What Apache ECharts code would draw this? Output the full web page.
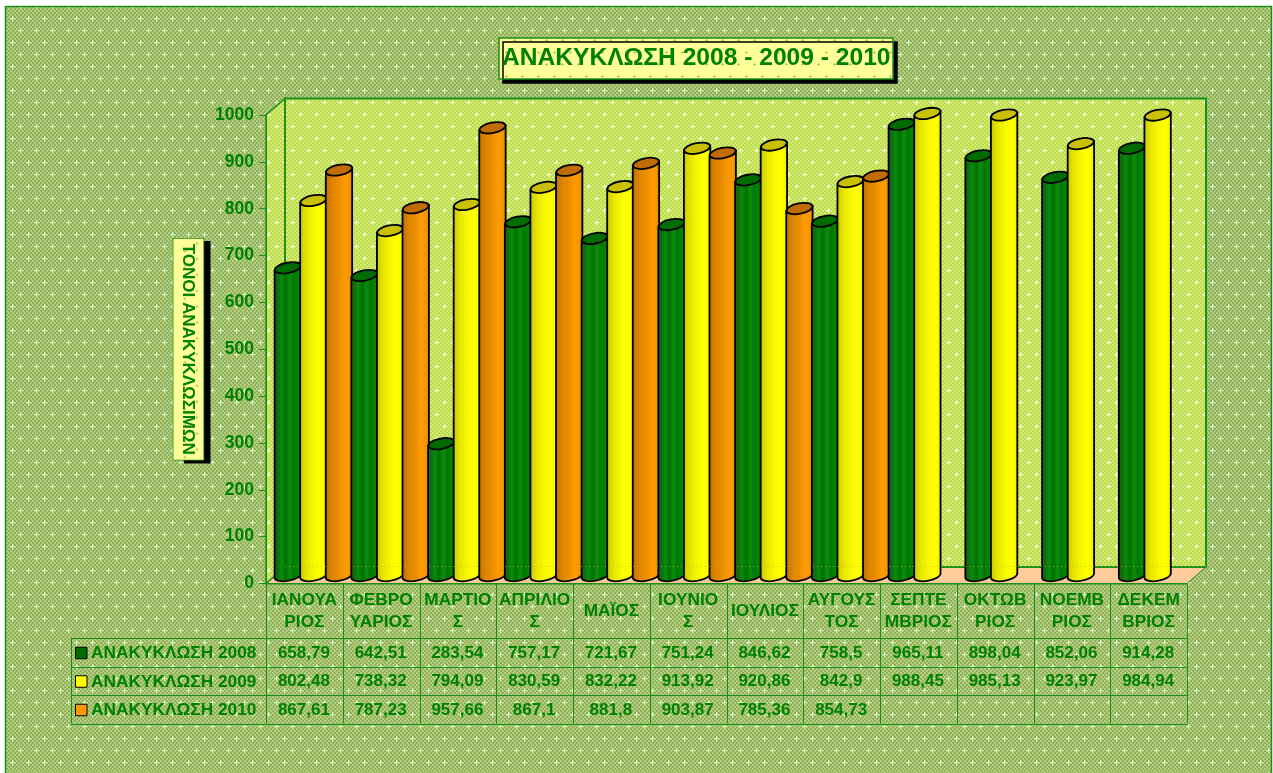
<!DOCTYPE html>
<html>
<head>
<meta charset="utf-8">
<title>ΑΝΑΚΥΚΛΩΣΗ</title>
<script src="https://cdn.jsdelivr.net/npm/echarts@6/dist/echarts.min.js"></script>
<style>
html, body { margin: 0; padding: 0; background: #fff; overflow: hidden; }
#main { width: 1273px; height: 773px; }
</style>
</head>
<body>
<div id="main"></div>
<script>
var months = ['ΙΑΝΟΥΑ\nΡΙΟΣ', 'ΦΕΒΡΟ\nΥΑΡΙΟΣ', 'ΜΑΡΤΙΟ\nΣ', 'ΑΠΡΙΛΙΟ\nΣ', 'ΜΑΪΟΣ', 'ΙΟΥΝΙΟ\nΣ',
    'ΙΟΥΛΙΟΣ', 'ΑΥΓΟΥΣ\nΤΟΣ', 'ΣΕΠΤΕ\nΜΒΡΙΟΣ', 'ΟΚΤΩΒ\nΡΙΟΣ', 'ΝΟΕΜΒ\nΡΙΟΣ', 'ΔΕΚΕΜ\nΒΡΙΟΣ'];
var names = ['ΑΝΑΚΥΚΛΩΣΗ 2008', 'ΑΝΑΚΥΚΛΩΣΗ 2009', 'ΑΝΑΚΥΚΛΩΣΗ 2010'];
var values2008 = [658.79, 642.51, 283.54, 757.17, 721.67, 751.24, 846.62, 758.5, 965.11, 898.04, 852.06, 914.28];
var values2009 = [802.48, 738.32, 794.09, 830.59, 832.22, 913.92, 920.86, 842.9, 988.45, 985.13, 923.97, 984.94];
var values2010 = [867.61, 787.23, 957.66, 867.1, 881.8, 903.87, 785.36, 854.73, null, null, null, null];

var GREEN = '#008000';
var LINE = '#1a8f1a';
var FONT = '"Liberation Sans", Arial, sans-serif';
var GRID = { left: 266, top: 115, width: 921, height: 468.5 };
// depth of the fake 3d box
var DX = 19, DY = -16.5;

// dithered tile with small crosses, used for all the textured surfaces
function makeTile(w, h, colorA, colorB, dot, big) {
    var c = document.createElement('canvas');
    c.width = w;
    c.height = h;
    var ctx = c.getContext('2d');
    ctx.fillStyle = colorA;
    ctx.fillRect(0, 0, w, h);
    if (colorB) {
        ctx.fillStyle = colorB;
        for (var y = 0; y < h; y += 2) {
            for (var x = 0; x < w; x += 2) {
                if ((x + y) % 4 === 0) ctx.fillRect(x, y, 2, 2);
            }
        }
    }
    ctx.fillStyle = dot;
    for (var py = 6; py < h; py += 12) {
        for (var px = (py % 24 === 6 ? 4 : 12); px < w; px += 16) {
            if (big) {
                ctx.fillRect(px - 2, py, 5, 1);
                ctx.fillRect(px, py - 2, 1, 5);
            } else {
                ctx.fillRect(px - 1, py, 3, 1);
                ctx.fillRect(px, py - 1, 1, 3);
            }
        }
    }
    return c;
}
var pageTile = { image: makeTile(16, 24, '#90b258', '#b4cd82', '#d4f8c8', true), repeat: 'repeat' };
var wallTile = { image: makeTile(16, 24, '#bcdc48', '#d4ea78', '#f4fce0', true), repeat: 'repeat' };
var boxTile = { image: makeTile(16, 24, '#ffff99', null, '#b4d24c'), repeat: 'repeat' };
var nameBox = makeTile(223, 30, '#ffff99', null, '#b4d24c');

function renderWalls(params) {
    var g = params.coordSys;
    var x0 = g.x, x1 = g.x + g.width, y0 = g.y, y1 = g.y + g.height;
    return {
        type: 'group',
        children: [
            {
                type: 'polygon',
                shape: { points: [[x0, y1], [x0 + DX, y1 + DY], [x1 + DX, y1 + DY], [x1, y1]] },
                style: { fill: '#ffcc99', stroke: LINE, lineWidth: 1 }
            },
            {
                type: 'polygon',
                shape: { points: [[x0, y0], [x0 + DX, y0 + DY], [x0 + DX, y1 + DY], [x0, y1]] },
                style: { fill: wallTile, stroke: LINE, lineWidth: 1.5 }
            },
            {
                type: 'rect',
                shape: { x: x0 + DX, y: y0 + DY, width: g.width, height: g.height },
                style: { fill: wallTile, stroke: LINE, lineWidth: 2 }
            },
            {
                type: 'line',
                shape: { x1: x0, y1: y1 + 0.5, x2: x1, y2: y1 + 0.5 },
                style: { stroke: LINE, lineWidth: 1 }
            }
        ]
    };
}

// the back edge of the floor shows through the bars as a faint dotted line
function renderFloorEdge(params) {
    var g = params.coordSys;
    var y = g.y + g.height + DY - 0.5;
    return {
        type: 'line',
        shape: { x1: g.x + DX, y1: y, x2: g.x + g.width + DX, y2: y },
        style: { stroke: 'rgba(190,175,70,0.75)', lineWidth: 1, lineDash: [1, 3] }
    };
}

var barColors = [
    { top: '#006c00', stops: ['#2a5c1c', '#0f6c0f', '#0a8c0a', '#006f00', '#0b8f0b', '#007400', '#008a00', '#006a00'] },
    { top: '#c8c000', stops: ['#bcbc00', '#d8d800', '#e8e800', '#f2f200', '#fbfb00', '#ffff00', '#fcfc00', '#dcdc00'] },
    { top: '#c06c00', stops: ['#b06c00', '#d07c00', '#e08600', '#e88a00', '#f29200', '#ff9c00', '#f89600', '#d88000'] }
];

function renderBar(slot) {
    var color = barColors[slot];
    return function (params, api) {
        var idx = api.value(0);
        var band = api.size([1, 0])[0];
        var w = band / 3;
        var center = api.coord([idx, 0])[0] + (slot - 1) * w + 9;
        var base = api.coord([idx, 0])[1] - 8;
        var top = api.coord([idx, api.value(1)])[1] - 7;
        var rx = w / 2 + 0.4, ry = 5.2, rise = 2.5;
        var tilt = Math.atan2(rise, rx);
        var left = center - rx, right = center + rx;
        var path = 'M' + left + ' ' + (top + rise) +
            'L' + left + ' ' + (base + rise) +
            'A' + rx + ' ' + ry + ' ' + (-tilt * 180 / Math.PI) + ' 0 0 ' + right + ' ' + (base - rise) +
            'L' + right + ' ' + (top - rise) + 'Z';
        var order = idx * 3 + slot;
        var stops = color.stops.map(function (c, i) {
            return { offset: i / (color.stops.length - 1), color: c };
        });
        return {
            type: 'group',
            children: [
                {
                    type: 'path',
                    z2: order * 2,
                    shape: { pathData: path },
                    style: {
                        fill: new echarts.graphic.LinearGradient(0, 0, 1, 0, stops),
                        stroke: '#000',
                        lineWidth: 1.8
                    }
                },
                {
                    type: 'ellipse',
                    z2: order * 2 + 1,
                    x: center,
                    y: top,
                    rotation: tilt,
                    shape: { cx: 0, cy: 0, rx: rx, ry: ry },
                    style: { fill: color.top, stroke: '#000', lineWidth: 1.8 }
                }
            ]
        };
    };
}

function barData(values) {
    var out = [];
    values.forEach(function (v, i) {
        if (v !== null) out.push([i, v]);
    });
    return out;
}

// data table under the plot
function tableGraphics() {
    var out = [];
    var colW = GRID.width / 12;
    var rowY = [GRID.top + GRID.height, 638, 666.5, 695, 723.5];
    var tableLeft = 71;
    var tableRight = GRID.left + GRID.width;
    function line(x1, y1, x2, y2) {
        out.push({
            type: 'line',
            z: 5,
            shape: { x1: x1, y1: y1, x2: x2, y2: y2 },
            style: { stroke: LINE, lineWidth: 1 }
        });
    }
    for (var r = 1; r < rowY.length; r++) {
        line(tableLeft, Math.round(rowY[r]) + 0.5, tableRight, Math.round(rowY[r]) + 0.5);
    }
    line(tableLeft + 0.5, rowY[1], tableLeft + 0.5, rowY[4]);
    for (var c = 0; c <= 12; c++) {
        var lx = Math.round(GRID.left + c * colW) + 0.5;
        line(lx, rowY[0], lx, rowY[4]);
    }
    [values2008, values2009, values2010].forEach(function (values, row) {
        var cy = (rowY[row + 1] + rowY[row + 2]) / 2 + 1;
        out.push({
            type: 'rect',
            z: 5,
            shape: { x: 75.5, y: cy - 6, width: 11.5, height: 11.5 },
            style: { fill: ['#006c00', '#ffff00', '#ff9900'][row], stroke: '#000', lineWidth: 1 }
        });
        out.push({
            type: 'text',
            z: 5,
            x: 91,
            y: cy,
            style: {
                text: names[row],
                fill: GREEN,
                font: 'bold 17.3px ' + FONT,
                textAlign: 'left',
                textVerticalAlign: 'middle'
            }
        });
        values.forEach(function (v, i) {
            if (v === null) return;
            out.push({
                type: 'text',
                z: 5,
                x: GRID.left + (i + 0.5) * colW - 0.5,
                y: cy,
                style: {
                    text: String(v).replace('.', ','),
                    fill: GREEN,
                    font: 'bold 17px ' + FONT,
                    textAlign: 'center',
                    textVerticalAlign: 'middle'
                }
            });
        });
    });
    return out;
}

var chart = echarts.init(document.getElementById('main'));
var option = {
    animation: false,
    backgroundColor: '#fff',
    title: {
        text: 'ΑΝΑΚΥΚΛΩΣΗ 2008 - 2009 - 2010',
        left: 499,
        top: 38,
        padding: [8, 3, 8, 3],
        backgroundColor: boxTile,
        borderColor: LINE,
        borderWidth: 1.5,
        shadowColor: '#000',
        shadowBlur: 0,
        shadowOffsetX: 4,
        shadowOffsetY: 4,
        textStyle: { color: GREEN, fontFamily: FONT, fontWeight: 'bold', fontSize: 24.6 }
    },
    grid: GRID,
    xAxis: {
        type: 'category',
        data: months,
        axisLine: { show: false },
        axisTick: { show: false },
        axisLabel: {
            color: GREEN,
            fontFamily: FONT,
            fontWeight: 'bold',
            fontSize: 17.3,
            lineHeight: 22,
            margin: 28,
            interval: 0,
            verticalAlign: 'middle'
        }
    },
    yAxis: {
        type: 'value',
        min: 0,
        max: 1000,
        interval: 100,
        z: 5,
        name: 'ΤΟΝΟΙ ΑΝΑΚΥΚΛΩΣΙΜΩΝ',
        nameLocation: 'middle',
        nameRotate: -90,
        nameGap: 56,
        nameTextStyle: {
            color: GREEN,
            fontFamily: FONT,
            fontWeight: 'bold',
            fontSize: 17,
            padding: [7, 5, 6, 5],
            backgroundColor: { image: nameBox },
            borderColor: LINE,
            borderWidth: 1.5
        },
        splitLine: { show: false },
        axisLine: { show: true, lineStyle: { color: LINE, width: 1 } },
        axisTick: { show: true, length: 7, lineStyle: { color: LINE, width: 1 } },
        axisLabel: {
            color: GREEN,
            fontFamily: FONT,
            fontWeight: 'bold',
            fontSize: 17.5,
            margin: 12,
            formatter: function (v) { return String(v); }
        }
    },
    graphic: [
        {
            type: 'rect',
            z: -1,
            silent: true,
            shape: { x: 5.5, y: 6.5, width: 1266, height: 780 },
            style: { fill: pageTile, stroke: LINE, lineWidth: 1.5 }
        },
        {
            // drop shadow of the axis name box
            type: 'rect',
            z: 0,
            silent: true,
            shape: { x: 184, y: 241, width: 26.5, height: 222.5 },
            style: { fill: '#000' }
        }
    ].concat(tableGraphics()),
    series: [
        { type: 'custom', name: 'walls', z: 1, silent: true, data: [[0, 0]], renderItem: renderWalls },
        { type: 'custom', name: names[0], z: 2, data: barData(values2008), encode: { x: 0, y: 1 }, renderItem: renderBar(0) },
        { type: 'custom', name: names[1], z: 2, data: barData(values2009), encode: { x: 0, y: 1 }, renderItem: renderBar(1) },
        { type: 'custom', name: names[2], z: 2, data: barData(values2010), encode: { x: 0, y: 1 }, renderItem: renderBar(2) },
        { type: 'custom', name: 'floorEdge', z: 3, silent: true, data: [[0, 0]], renderItem: renderFloorEdge }
    ]
};
chart.setOption(option);
</script>
</body>
</html>
